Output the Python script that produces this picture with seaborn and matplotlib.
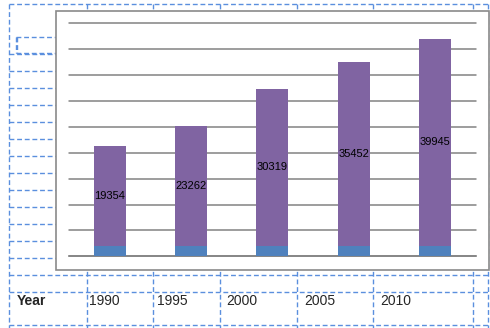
import matplotlib
matplotlib.use("Agg")
import matplotlib.pyplot as plt
from matplotlib.patches import Rectangle
from matplotlib.lines import Line2D
import seaborn as sns
import pandas as pd

# Data
years = [1990, 1995, 2000, 2005, 2010]
values = [19354, 23262, 30319, 35452, 39945]
year_labels = ["1990", "1995", "2000", "2005", "2010"]

PURPLE = "#8064A2"
BLUE = "#4F81BD"
GRID = "#828282"
SHEET = "#5B8FDE"

sns.set_theme(style="white")
plt.rcParams["font.family"] = ["Liberation Sans", "DejaVu Sans"]

W, H = 490, 328
fig = plt.figure(figsize=(W / 100, H / 100), dpi=100)


def px(x, y):
    return x / W, 1 - y / H


def sheet_line(x0, y0, x1, y1, z=0):
    (a, b), (c, d) = px(x0, y0), px(x1, y1)
    fig.add_artist(Line2D([a, c], [b, d], transform=fig.transFigure,
                          color=SHEET, lw=1.0, ls=(0, (3.5, 2)), zorder=z))


# Spreadsheet cell grid behind the chart
sheet_line(9.3, 4.3, 490, 4.3)
for y in [54, 71.3, 88.3, 105.3, 122.3, 139.3, 156.3, 173.3, 190.3,
          207.3, 224.3, 241.3, 258.3]:
    sheet_line(9.3, y, 56, y)
for y in [275.3, 292.3, 325.3]:
    sheet_line(9.3, y, 490, y)
sheet_line(9.3, 4.3, 9.3, 328)
for x in [86.7, 153.3, 220, 297, 373.3, 473.3, 488.3]:
    sheet_line(x, 4.3, x, 328)

# Small selection box at the upper left
for x in [15.7, 16.8]:
    sheet_line(x, 37.3, x, 53.0)
sheet_line(15.7, 37.3, 56, 37.3)
sheet_line(15.7, 53.0, 56, 53.0)

# Chart frame
fx, fy = px(56.3, 269.7)
fw, fh = (489.3 - 56.3) / W, (269.7 - 10.5) / H
fig.add_artist(Rectangle((fx, fy), fw, fh, transform=fig.transFigure,
                         facecolor="white", edgecolor="#8A8A8A", lw=1.2, zorder=2))

# Plot area
left, top = px(69, 23.3)
right, bottom = px(475.7, 256.3)
ax = fig.add_axes([left, bottom, right - left, top - bottom], zorder=3)
ax.set_facecolor("none")

df = pd.DataFrame({"Year": year_labels, "Year value": years, "Value": values})
df["Total"] = df["Year value"] + df["Value"]

sns.barplot(data=df, x="Year", y="Total", color=PURPLE, width=0.39,
            saturation=1, linewidth=0, edgecolor="none", ax=ax, zorder=3)
sns.barplot(data=df, x="Year", y="Year value", color=BLUE, width=0.39,
            saturation=1, linewidth=0, edgecolor="none", ax=ax, zorder=3)

for i, (yv, v) in enumerate(zip(years, values)):
    ax.text(i, yv + v / 2, str(v), ha="center", va="center",
            fontsize=8, color="black", zorder=4)

ax.set_ylim(0, 45000)
ax.set_xlim(-0.5, 4.5)
ax.set_yticks(range(0, 45001, 5000))
ax.yaxis.grid(True, color=GRID, lw=1.1)
for gl in ax.get_ygridlines():
    gl.set_clip_on(False)
ax.set_axisbelow(True)
ax.tick_params(length=0, labelleft=False, labelbottom=False)
ax.set_xlabel("")
ax.set_ylabel("")
for s in ["top", "right", "left"]:
    ax.spines[s].set_visible(False)
ax.spines["bottom"].set_color(GRID)
ax.spines["bottom"].set_linewidth(1.1)

# Row of year labels below the chart
ty = 1 - 301 / H
fig.text(16.7 / W, ty, "Year", fontsize=10, fontweight="bold", va="center", ha="left")
for x, lab in zip([89.3, 156.7, 226.7, 304, 380], year_labels):
    fig.text(x / W, ty, lab, fontsize=10, va="center", ha="left")

fig.savefig("out.png", dpi=100)
